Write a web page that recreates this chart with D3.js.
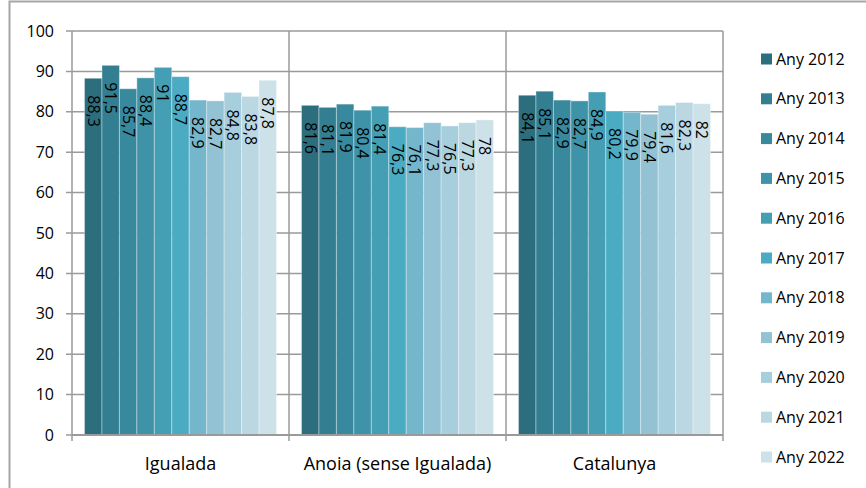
<!DOCTYPE html>
<html>
<head>
<meta charset="utf-8">
<script src="https://cdn.jsdelivr.net/npm/d3@7"></script>
<style>
  body { margin: 0; background: #fff; }
  text { font-family: "Open Sans", sans-serif; fill: #000; }
</style>
</head>
<body>
<svg width="866" height="488"></svg>
<script>
const CATEGORIES = ['Igualada', 'Anoia (sense Igualada)', 'Catalunya'];
const YEARS = ['Any 2012', 'Any 2013', 'Any 2014', 'Any 2015', 'Any 2016', 'Any 2017',
               'Any 2018', 'Any 2019', 'Any 2020', 'Any 2021', 'Any 2022'];
const IGUALADA = [88.3, 91.5, 85.7, 88.4, 91, 88.7, 82.9, 82.7, 84.8, 83.8, 87.8];
const ANOIA = [81.6, 81.1, 81.9, 80.4, 81.4, 76.3, 76.1, 77.3, 76.5, 77.3, 78];
const CATALUNYA = [84.1, 85.1, 82.9, 82.7, 84.9, 80.2, 79.9, 79.4, 81.6, 82.3, 82];
const Y_TICKS = [0, 10, 20, 30, 40, 50, 60, 70, 80, 90, 100];
const COLORS = ['#2d6e7e', '#337e91', '#39899e', '#3f93a8', '#449eb4', '#4aabc3',
                '#74b6cc', '#92c2d3', '#a7cedd', '#bad7e2', '#cce1e8'];

const SERIES = [IGUALADA, ANOIA, CATALUNYA];
const MARGIN = {left: 72, top: 31, right: 723, bottom: 435};
const GRID = '#9a9a9a';

const svg = d3.select('svg');

// outer frame (only top and left edges are visible in the picture)
svg.append('rect')
  .attr('x', 9.5).attr('y', 1.5).attr('width', 1000).attr('height', 1000)
  .attr('fill', 'none').attr('stroke', '#a6a6a6').attr('stroke-width', 2);

const x0 = d3.scaleBand().domain(CATEGORIES).range([MARGIN.left, MARGIN.right]);
const x1 = d3.scaleBand().domain(YEARS).range([12.5, x0.bandwidth() - 12.5]);
const y = d3.scaleLinear().domain([0, 100]).range([MARGIN.bottom, MARGIN.top]);
const color = d3.scaleOrdinal().domain(YEARS).range(COLORS);

// horizontal gridlines
svg.append('g')
  .selectAll('line')
  .data(Y_TICKS)
  .join('line')
  .attr('x1', MARGIN.left - 6).attr('x2', MARGIN.right)
  .attr('y1', d => y(d)).attr('y2', d => y(d))
  .attr('stroke', GRID).attr('stroke-width', 1.5);

// vertical dividers between categories
const edges = CATEGORIES.map(c => x0(c)).concat([MARGIN.right]);
svg.append('g')
  .selectAll('line')
  .data(edges)
  .join('line')
  .attr('x1', d => d).attr('x2', d => d)
  .attr('y1', MARGIN.top).attr('y2', MARGIN.bottom + 6)
  .attr('stroke', GRID).attr('stroke-width', 1.5);

// y tick labels
svg.append('g')
  .selectAll('text')
  .data(Y_TICKS)
  .join('text')
  .attr('x', 54).attr('y', d => y(d))
  .attr('dy', '0.35em')
  .attr('text-anchor', 'end')
  .style('font-size', '16px')
  .text(d => d);

// bars
const groups = svg.append('g')
  .selectAll('g')
  .data(CATEGORIES)
  .join('g')
  .attr('transform', d => `translate(${x0(d)},0)`);

const rows = (c, i) => YEARS.map((yr, j) => ({year: yr, value: SERIES[i][j]}));

groups.selectAll('rect')
  .data(rows)
  .join('rect')
  .attr('x', d => x1(d.year))
  .attr('width', x1.bandwidth())
  .attr('y', d => y(d.value))
  .attr('height', d => y(0) - y(d.value))
  .attr('fill', d => color(d.year))
  .attr('stroke', 'rgba(255,255,255,0.35)')
  .attr('stroke-width', 1);

// value labels, rotated, inside the top of each bar
groups.selectAll('text')
  .data(rows)
  .join('text')
  .attr('transform', d => `translate(${x1(d.year) + x1.bandwidth() / 2},${y(d.value) + 17}) rotate(90)`)
  .attr('dy', '0.35em')
  .style('font-size', '16px')
  .text(d => String(d.value).replace('.', ','));

// axis line
svg.append('line')
  .attr('x1', MARGIN.left).attr('x2', MARGIN.right)
  .attr('y1', MARGIN.bottom).attr('y2', MARGIN.bottom)
  .attr('stroke', GRID).attr('stroke-width', 2);

// category labels
svg.append('g')
  .selectAll('text')
  .data(CATEGORIES)
  .join('text')
  .attr('x', d => x0(d) + x0.bandwidth() / 2)
  .attr('y', 470)
  .attr('text-anchor', 'middle')
  .style('font-size', '18px')
  .text(d => d);

// legend
const legend = svg.append('g')
  .selectAll('g')
  .data(YEARS)
  .join('g')
  .attr('transform', (d, i) => `translate(761,${59 + i * 39.8})`);

legend.append('rect')
  .attr('x', 0).attr('y', -5.5)
  .attr('width', 11).attr('height', 11)
  .attr('fill', d => color(d));

legend.append('text')
  .attr('x', 15).attr('dy', '0.35em')
  .style('font-size', '16px')
  .text(d => d);
</script>
</body>
</html>
